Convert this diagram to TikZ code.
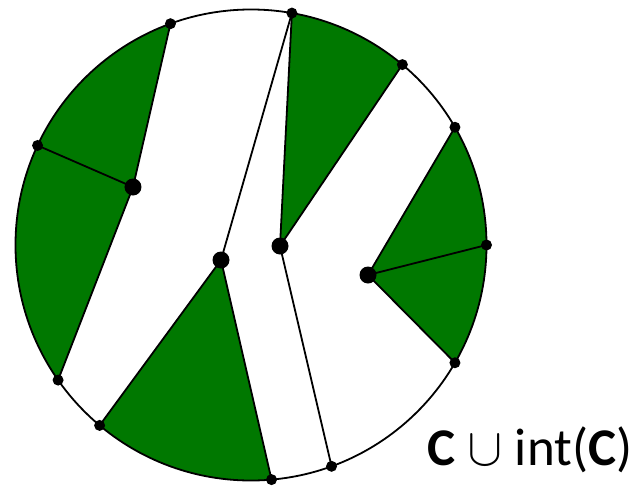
\documentclass[tikz,border=0pt]{standalone}
\usepackage{amsmath}
\usepackage{fontspec}
\usepackage{unicode-math}
\setmathfont{Latin Modern Math}
\usepackage{tikz}
\usetikzlibrary{calc}
\usepackage{xcolor}
\newfontfamily\labelfont{Carlito}
\definecolor{regiongreen}{HTML}{007800}

\begin{document}
\begin{tikzpicture}[x=1pt, y=1pt, line width=1.8pt]
        \useasboundingbox (-251,-240) rectangle (385,245);
        % Randpunkte auf dem Kreis
        \foreach \name/\ang in {A/110, B/80, C/50, D/30, E/0, F/-30, G/-70, H/-85, I/-130, J/-145, K/155}{
          \coordinate (\name) at (\ang:235.5);
        }
        % innere Punkte
        \coordinate (P) at (-118,58);
        \coordinate (Q) at (-30,-15);
        \coordinate (R) at (29,-1);
        \coordinate (S) at (117,-30);
        % gruene Gebiete
        \fill[regiongreen] (A)--(P)--(J) arc[start angle=-145, end angle=-250, radius=235.5]--cycle;
        \fill[regiongreen] (B)--(R)--(C) arc[start angle=50, end angle=80, radius=235.5]--cycle;
        \fill[regiongreen] (D)--(S)--(F) arc[start angle=-30, end angle=30, radius=235.5]--cycle;
        \fill[regiongreen] (Q)--(I) arc[start angle=-130, end angle=-85, radius=235.5]--cycle;
        % Kreis und Sehnen
        \draw (0,0) circle (235.5);
        \draw (K)--(P);
        \draw (A)--(P)--(J);
        \draw (B)--(Q)--(H);
        \draw (Q)--(I);
        \draw (B)--(R)--(G);
        \draw (R)--(C);
        \draw (D)--(S)--(F);
        \draw (S)--(E);
        % Punkte
        \foreach \p in {A, B, C, D, E, F, G, H, I, J, K}{
          \fill (\p) circle (5.5);
        }
        \foreach \p in {P, Q, R, S}{
          \fill (\p) circle (8.5);
        }
        \node (label) [anchor=base, inner sep=0pt, font=\labelfont\fontsize{53}{63}\selectfont] at (279,-220) {\textbf{C} $\cup$ int(\textbf{C})};
      \end{tikzpicture}
\end{document}
